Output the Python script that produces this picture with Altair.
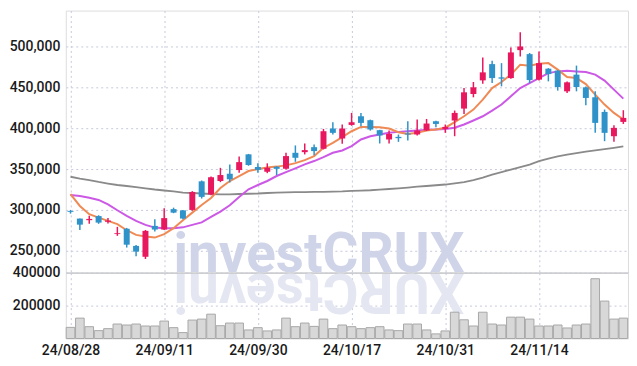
import altair as alt
import pandas as pd

dates = ["24/08/28","24/08/29","24/08/30","24/09/02","24/09/03","24/09/04","24/09/05","24/09/06",
         "24/09/09","24/09/10","24/09/11","24/09/12","24/09/13","24/09/19","24/09/20","24/09/23",
         "24/09/24","24/09/25","24/09/26","24/09/27","24/09/30","24/10/02","24/10/04","24/10/07",
         "24/10/08","24/10/10","24/10/11","24/10/14","24/10/15","24/10/16","24/10/17","24/10/18",
         "24/10/21","24/10/22","24/10/23","24/10/24","24/10/25","24/10/28","24/10/29","24/10/30",
         "24/10/31","24/11/01","24/11/04","24/11/05","24/11/06","24/11/07","24/11/08","24/11/11",
         "24/11/12","24/11/13","24/11/14","24/11/15","24/11/18","24/11/19","24/11/20","24/11/21",
         "24/11/22","24/11/25","24/11/26","24/11/27"]

opens = [298500, 289400, 287500, 292500, 285500, 270500, 277000, 256000, 242700, 280500,
         276000, 301000, 299500, 300000, 335000, 319000, 335400, 344300, 348800, 368000,
         352500, 346700, 352800, 350400, 369900, 370700, 376800, 374800, 399600, 387400,
         404000, 414600, 409800, 397600, 386200, 389400, 393500, 392300, 397200, 408500,
         399100, 409400, 424000, 441800, 458500, 478400, 462200, 461300, 495500, 490600,
         459400, 472800, 470400, 445100, 465500, 450000, 437800, 419900, 390200, 407700]
highs = [300000, 289500, 293000, 293500, 290000, 279300, 278000, 257000, 275500, 288500,
         302000, 302800, 300000, 323000, 336000, 341000, 351500, 355500, 365500, 368500,
         357000, 357000, 353500, 370000, 378900, 381300, 380000, 399100, 407300, 404500,
         418700, 418700, 410500, 398000, 397200, 392300, 408500, 410600, 411300, 409000,
         404500, 421600, 449100, 456500, 486600, 482500, 479600, 498800, 517400, 492000,
         493900, 473500, 471000, 457000, 476600, 451000, 445100, 422800, 403700, 422000]
lows = [295500, 275600, 283000, 283000, 283500, 268300, 254000, 243500, 240000, 273500,
        275500, 296000, 288500, 299000, 314000, 318000, 334000, 333500, 345500, 354000,
        345500, 345000, 342700, 349500, 358900, 367900, 367000, 374000, 392300, 380900,
        403000, 402400, 397000, 381300, 381300, 383300, 385000, 391000, 396500, 401200,
        394300, 390200, 417400, 437800, 454500, 455200, 451200, 460500, 487800, 455200,
        458500, 457300, 446000, 443000, 445100, 428000, 394300, 384100, 383300, 405200]
closes = [297500, 282000, 289000, 284500, 287000, 271500, 257500, 249000, 274400, 276000,
          290000, 296700, 289500, 322000, 316000, 340000, 342700, 337500, 358500, 355000,
          349000, 351600, 350300, 365900, 363800, 373200, 372000, 396300, 394300, 399600,
          407300, 406500, 398400, 391100, 393000, 387800, 392300, 397200, 405700, 405200,
          401600, 418700, 443900, 450000, 468300, 461300, 460600, 492700, 500000, 458900,
          479600, 466200, 450400, 456100, 450400, 437000, 406500, 394300, 400400, 412600]

ma5 = [319200, 304900, 294800, 290600, 286600, 282600, 275200, 269500, 267400, 266200,
       270400, 277700, 287400, 296700, 306100, 314600, 326800, 335400, 341500, 347600,
       350000, 351800, 353000, 354500, 357300, 361000, 365900, 376000, 382100, 389000,
       396300, 401600, 401600, 401200, 399600, 395100, 393000, 394300, 397200, 398400,
       400600, 407300, 414600, 422800, 435000, 449100, 456500, 465500, 477700, 476500,
       478900, 479600, 471600, 462600, 461300, 454000, 441100, 428900, 418700, 410600]
ma20 = [318300, 317100, 315000, 312200, 306900, 299600, 292700, 286600, 281700, 278400,
        277700, 277700, 278700, 281700, 284800, 291500, 297900, 305700, 315900, 325200,
        330500, 335400, 341500, 346300, 350900, 355700, 359800, 364600, 369900, 372800,
        378000, 386200, 390200, 392300, 394300, 395500, 396300, 397200, 397900, 398400,
        399100, 400600, 404500, 409400, 414600, 421600, 428900, 439000, 449100, 455200,
        461300, 467400, 469500, 470400, 469500, 468700, 465500, 458200, 447200, 436200]
ma60 = [340600, 338400, 336600, 334200, 332300, 330500, 329300, 328000, 326500, 325000,
        323800, 322600, 321300, 320700, 320100, 319500, 319100, 319100, 319500, 319800,
        320100, 320700, 321100, 321600, 321700, 321900, 322100, 322200, 322300, 322600,
        323200, 323700, 324100, 324900, 325600, 326500, 327400, 328400, 329300, 330200,
        331100, 332600, 334100, 336600, 339600, 343300, 346300, 349400, 352400, 355500,
        359800, 362800, 365500, 367700, 369500, 371300, 372800, 374400, 376000, 377700]
volume = [67700, 124000, 71900, 47900, 59900, 88000, 82000, 88000, 76000, 76000,
          106000, 65900, 35900, 112000, 118000, 147900, 77800, 94000, 94000, 52100,
          65900, 46100, 52100, 124000, 71900, 94000, 73700, 118000, 59900, 82000,
          71900, 59900, 65900, 71900, 52100, 47900, 88000, 88000, 52100, 28100,
          46100, 159900, 113800, 76000, 159900, 88000, 82000, 129900, 129900, 118000,
          76000, 76000, 82000, 64100, 82000, 88000, 363500, 227500, 118000, 124000]

price_ticks = [250000, 300000, 350000, 400000, 450000, 500000]
volume_ticks = [200000, 400000]
tick_idx = [0, 10, 20, 30, 40, 50]
watermark = "investCRUX"

n = len(dates)
df = pd.DataFrame({"i": list(range(n)), "date": dates, "open": opens, "high": highs,
                   "low": lows, "close": closes, "ma5": ma5, "ma20": ma20, "ma60": ma60,
                   "vol": volume})

RED = "#e8185e"
BLUE = "#2f93c9"
GRID = "#c6cadc"
FONT = "Roboto"
FS = 14
W = 564
EXT = 56

label_expr = "[" + ",".join("'" + d + "'" for d in dates) + "][datum.value]"
xscale = alt.Scale(domain=[-0.5, n - 0.5], nice=False, zero=False)
pscale = alt.Scale(domain=[223200, 543900], nice=False, zero=False)

yaxis_common = dict(grid=True, gridColor=GRID, gridDash=[2, 3], domain=False, ticks=False,
                    labelFont=FONT, labelFontSize=FS, labelColor="#1a1a1a", labelPadding=6,
                    labelFontWeight=500, minExtent=EXT, maxExtent=EXT, title=None)

base = alt.Chart(df)

x_price = alt.X("i:Q", scale=xscale,
                axis=alt.Axis(values=tick_idx, labels=False, ticks=False, domain=True,
                              domainColor="#9a9a9a", grid=True, gridColor=GRID,
                              gridDash=[2, 3], title=None, minExtent=0, maxExtent=0))

wm = pd.DataFrame({"t": [watermark], "r": [watermark[::-1]]})
wm_main = alt.Chart(wm).mark_text(font="Roboto", fontWeight="bold", fontSize=55,
                                  color="#cfd4e8", align="center", baseline="alphabetic").encode(
    x=alt.value(254), y=alt.value(262), text="t:N")
wm_refl = alt.Chart(wm).mark_text(font="Roboto", fontWeight="bold", fontSize=55,
                                  color="#e4e7f2", align="center", baseline="alphabetic",
                                  angle=180).encode(
    x=alt.value(254), y=alt.value(1), text="r:N")

y_price = alt.Y("ma60:Q", scale=pscale,
                axis=alt.Axis(values=price_ticks, format=",d", **yaxis_common))

l60 = base.mark_line(color="#8a8a8a", strokeWidth=1.8).encode(x=x_price, y=y_price)
l20 = base.mark_line(color="#cc58e6", strokeWidth=2).encode(x="i:Q", y="ma20:Q")
l5 = base.mark_line(color="#ef8a55", strokeWidth=2).encode(x="i:Q", y="ma5:Q")

candle_color = alt.condition("datum.close >= datum.open", alt.value(RED), alt.value(BLUE))
wick = base.mark_rule(strokeWidth=1.5).encode(x="i:Q", y="low:Q", y2="high:Q", color=candle_color)
body = base.mark_rule(strokeWidth=6, strokeCap="butt").encode(
    x="i:Q", y="open:Q", y2="close:Q", color=candle_color)

price = alt.layer(wm_main, l60, l20, l5, wick, body).properties(width=W, height=263)

bars = base.transform_calculate(lo="datum.i - 0.46", hi="datum.i + 0.46").mark_bar(
    color="#d8d8d8", stroke="#a8a8a8", strokeWidth=1).encode(
    x=alt.X("lo:Q", scale=xscale,
            axis=alt.Axis(values=tick_idx, labelExpr=label_expr, grid=True, gridColor=GRID,
                          gridDash=[2, 3], ticks=False, domain=False, labelFont=FONT,
                          labelFontSize=FS, labelFontWeight=500, labelColor="#1a1a1a",
                          labelPadding=5, title=None)),
    x2="hi:Q",
    y=alt.Y("vol:Q", scale=alt.Scale(domain=[0, 400000], nice=False),
            axis=alt.Axis(values=volume_ticks, format="d", **yaxis_common)),
    y2=alt.datum(0),
)
vol = alt.layer(wm_refl, bars).properties(width=W, height=66)

chart = alt.vconcat(price, vol, spacing=0, bounds="flush").properties(
    padding={"left": 0, "top": 1, "right": 0, "bottom": 5}
).configure_view(stroke="#d4d4d4").configure(background="white")

chart.save("out.html", embed_options={"renderer": "svg", "actions": False})
